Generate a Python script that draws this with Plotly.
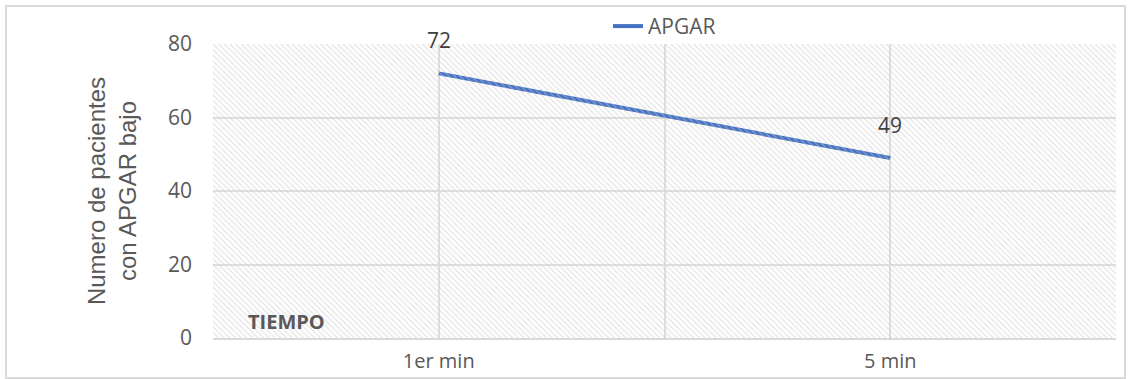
import plotly.graph_objects as go

tiempos = ["1er min", "5 min"]
pacientes = [72, 49]
serie = "APGAR"
y_ticks = [0, 20, 40, 60, 80]

n = len(tiempos)
x_idx = list(range(n))
grid_vals = [i * 0.5 - 0.5 for i in range(2 * n + 1)]
grid_text = [tiempos[int(v)] if float(v).is_integer() else "" for v in grid_vals]

FONT = "Open Sans"
GRAY = "#595959"

fig = go.Figure()

# hatched plot-area background
fig.add_trace(go.Scatter(
    x=[0, 1, 1, 0, 0], y=[0, 0, 1, 1, 0], xaxis="x2", yaxis="y2",
    mode="lines", line=dict(width=0), fill="toself",
    fillcolor="rgba(0,0,0,0)",
    fillpattern=dict(shape="\\", size=4, solidity=0.3,
                     fgcolor="#c8c8c8", bgcolor="rgba(0,0,0,0)"),
    hoverinfo="skip", showlegend=False,
))

fig.add_trace(go.Scatter(
    x=x_idx, y=pacientes, name=serie, mode="lines",
    line=dict(color="#4472C4", width=4),
))

annotations = [dict(x=xi, y=v, xref="x", yref="y", text=str(v), showarrow=False,
                    yshift=33, font=dict(family=FONT, size=21, color="#404040"))
               for xi, v in zip(x_idx, pacientes)]
annotations.append(dict(text="<b>TIEMPO</b>", xref="paper", yref="paper",
                        x=0.037, y=0.0, xanchor="left", yanchor="bottom", yshift=1,
                        showarrow=False, font=dict(family=FONT, size=20, color=GRAY)))

fig.update_layout(
    width=1132, height=379,
    margin=dict(l=213, r=16, t=44, b=41, autoexpand=False),
    paper_bgcolor="white", plot_bgcolor="white",
    font=dict(family=FONT, color=GRAY),
    showlegend=True,
    legend=dict(orientation="h", x=0.5, xanchor="center", y=0.99, yanchor="bottom",
                font=dict(family=FONT, size=21, color=GRAY),
                bgcolor="rgba(0,0,0,0)"),
    xaxis=dict(range=[-0.5, n - 0.5], tickmode="array", tickvals=grid_vals,
               ticktext=grid_text, showgrid=True, gridcolor="#e0e0e0", gridwidth=1.5,
               zeroline=False, showline=True, linecolor="#d9d9d9", linewidth=2,
               ticks="", ticklabelstandoff=4, tickfont=dict(size=20, color=GRAY)),
    yaxis=dict(range=[0, 80], tickvals=y_ticks, showgrid=True, gridcolor="#e0e0e0",
               gridwidth=1.5, zeroline=False, ticks="", ticklabelstandoff=20,
               tickfont=dict(size=21, color=GRAY),
               title=dict(text="Numero de pacientes<br>con APGAR bajo",
                          font=dict(family="Liberation Sans", size=24, color=GRAY),
                          standoff=24)),
    xaxis2=dict(range=[0, 1], overlaying="x", visible=False),
    yaxis2=dict(range=[0, 1], overlaying="y", visible=False),
    annotations=annotations,
    shapes=[dict(type="rect", xref="paper", yref="paper",
                 x0=-0.2292, x1=1.0099, y0=-0.136, y1=1.1293,
                 line=dict(color="#d9d9d9", width=2), layer="below")],
)

fig.write_html("out.html", config={"displayModeBar": False},
               post_script="document.body.style.margin='0';")
